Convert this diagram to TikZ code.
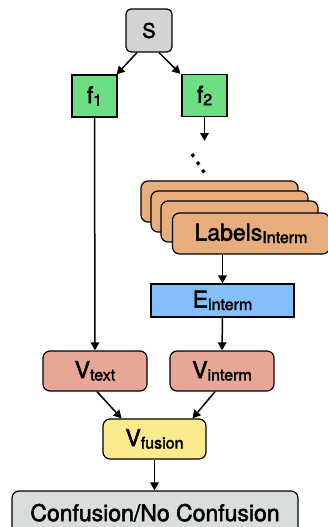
\documentclass[tikz,border=0pt]{standalone}
\usepackage{fontspec}
\setmainfont{TeX Gyre Heros}
\newfontfamily\medfont{TeX Gyre Heros}[FakeBold=2.2]
\usetikzlibrary{arrows.meta}

\definecolor{sgray}{HTML}{D4D4D4}
\definecolor{fgreen}{HTML}{6CDF85}
\definecolor{lorange}{HTML}{E8AD7C}
\definecolor{eblue}{HTML}{82BFFC}
\definecolor{vred}{HTML}{E6A797}
\definecolor{vyellow}{HTML}{FBEB8E}
\definecolor{cgray}{HTML}{D9DEDB}

\newcommand{\idx}[1]{\raisebox{-2.5pt}{\fontsize{16}{17}\selectfont #1}}

\begin{document}
\begin{tikzpicture}[x=1pt,y=-1pt,line width=1.5pt,
        box/.style={draw,line width=1.2pt,inner sep=0pt,
            font=\medfont\fontsize{23}{25}\selectfont},
        round/.style={box,rounded corners=7pt},
        card/.style={round,fill=lorange,minimum width=157pt,minimum height=41pt},
        link/.style={-{Triangle[length=8pt,width=8.5pt]}}]
        \useasboundingbox (0,0) rectangle (328,527);

        \node[round,rounded corners=5pt,fill=sgray,minimum width=46pt,minimum height=43pt,
            font=\medfont\fontsize{20}{22}\selectfont] (S) at (149,30.5) {S};
        \node[box,fill=fgreen,minimum width=45pt,minimum height=42pt] (F1) at (94.5,96) {f\idx{1}};
        \node[box,fill=fgreen,minimum width=45pt,minimum height=42pt] (F2) at (204.5,95.5) {f\idx{2}};

        % stacked label cards
        \node[card] (L1) at (219.5,201.5) {};
        \node[card] (L2) at (229.5,211.5) {};
        \node[card] (L3) at (239.5,221.5) {};
        \node[card] (L) at (251,233.5) {Labels\idx{Interm}};

        \node[box,fill=eblue,minimum width=143pt,minimum height=33pt] (E) at (222.5,300.5) {E\idx{interm}};
        \node[round,fill=vred,minimum width=104pt,minimum height=40pt] (VT) at (95,371) {V\idx{text}};
        \node[round,fill=vred,minimum width=104pt,minimum height=40pt] (VI) at (222,371) {V\idx{interm}};
        \node[round,fill=vyellow,minimum width=103pt,minimum height=40pt] (VF) at (154.5,439) {V\idx{fusion}};
        \node[round,fill=cgray,minimum width=286pt,minimum height=52pt,
            font=\medfont\fontsize{23}{25}\selectfont] (C) at (155,517) {\raisebox{9pt}{Confusion/No Confusion}};

        \coordinate (D0) at (204.5,141);
        \coordinate (D1) at (192,154);
        \coordinate (D2) at (204.5,173);

        \path[link] ([xshift=-12pt]S.south) edge ([xshift=-1pt]F1.north east);
        \path[link] ([xshift=10pt]S.south) edge ([xshift=-1pt]F2.north west);
        \path[link] (F2.south) edge (D0);
        \draw[line width=3.2pt,dash pattern=on 3.2pt off 6.3pt] (D1) -- (D2);
        \path[link] (F1.south) edge (VT.north);
        \path[link] (L.south -| E.north) edge (E.north);
        \path[link] (E.south) edge (VI.north);
        \path[link] ([xshift=2pt]VT.south) edge ([xshift=-33pt]VF.north);
        \path[link] ([xshift=-7pt]VI.south) edge ([xshift=38pt]VF.north);
        \path[link] (VF.south) edge (VF.south |- C.north);
    \end{tikzpicture}
\end{document}
